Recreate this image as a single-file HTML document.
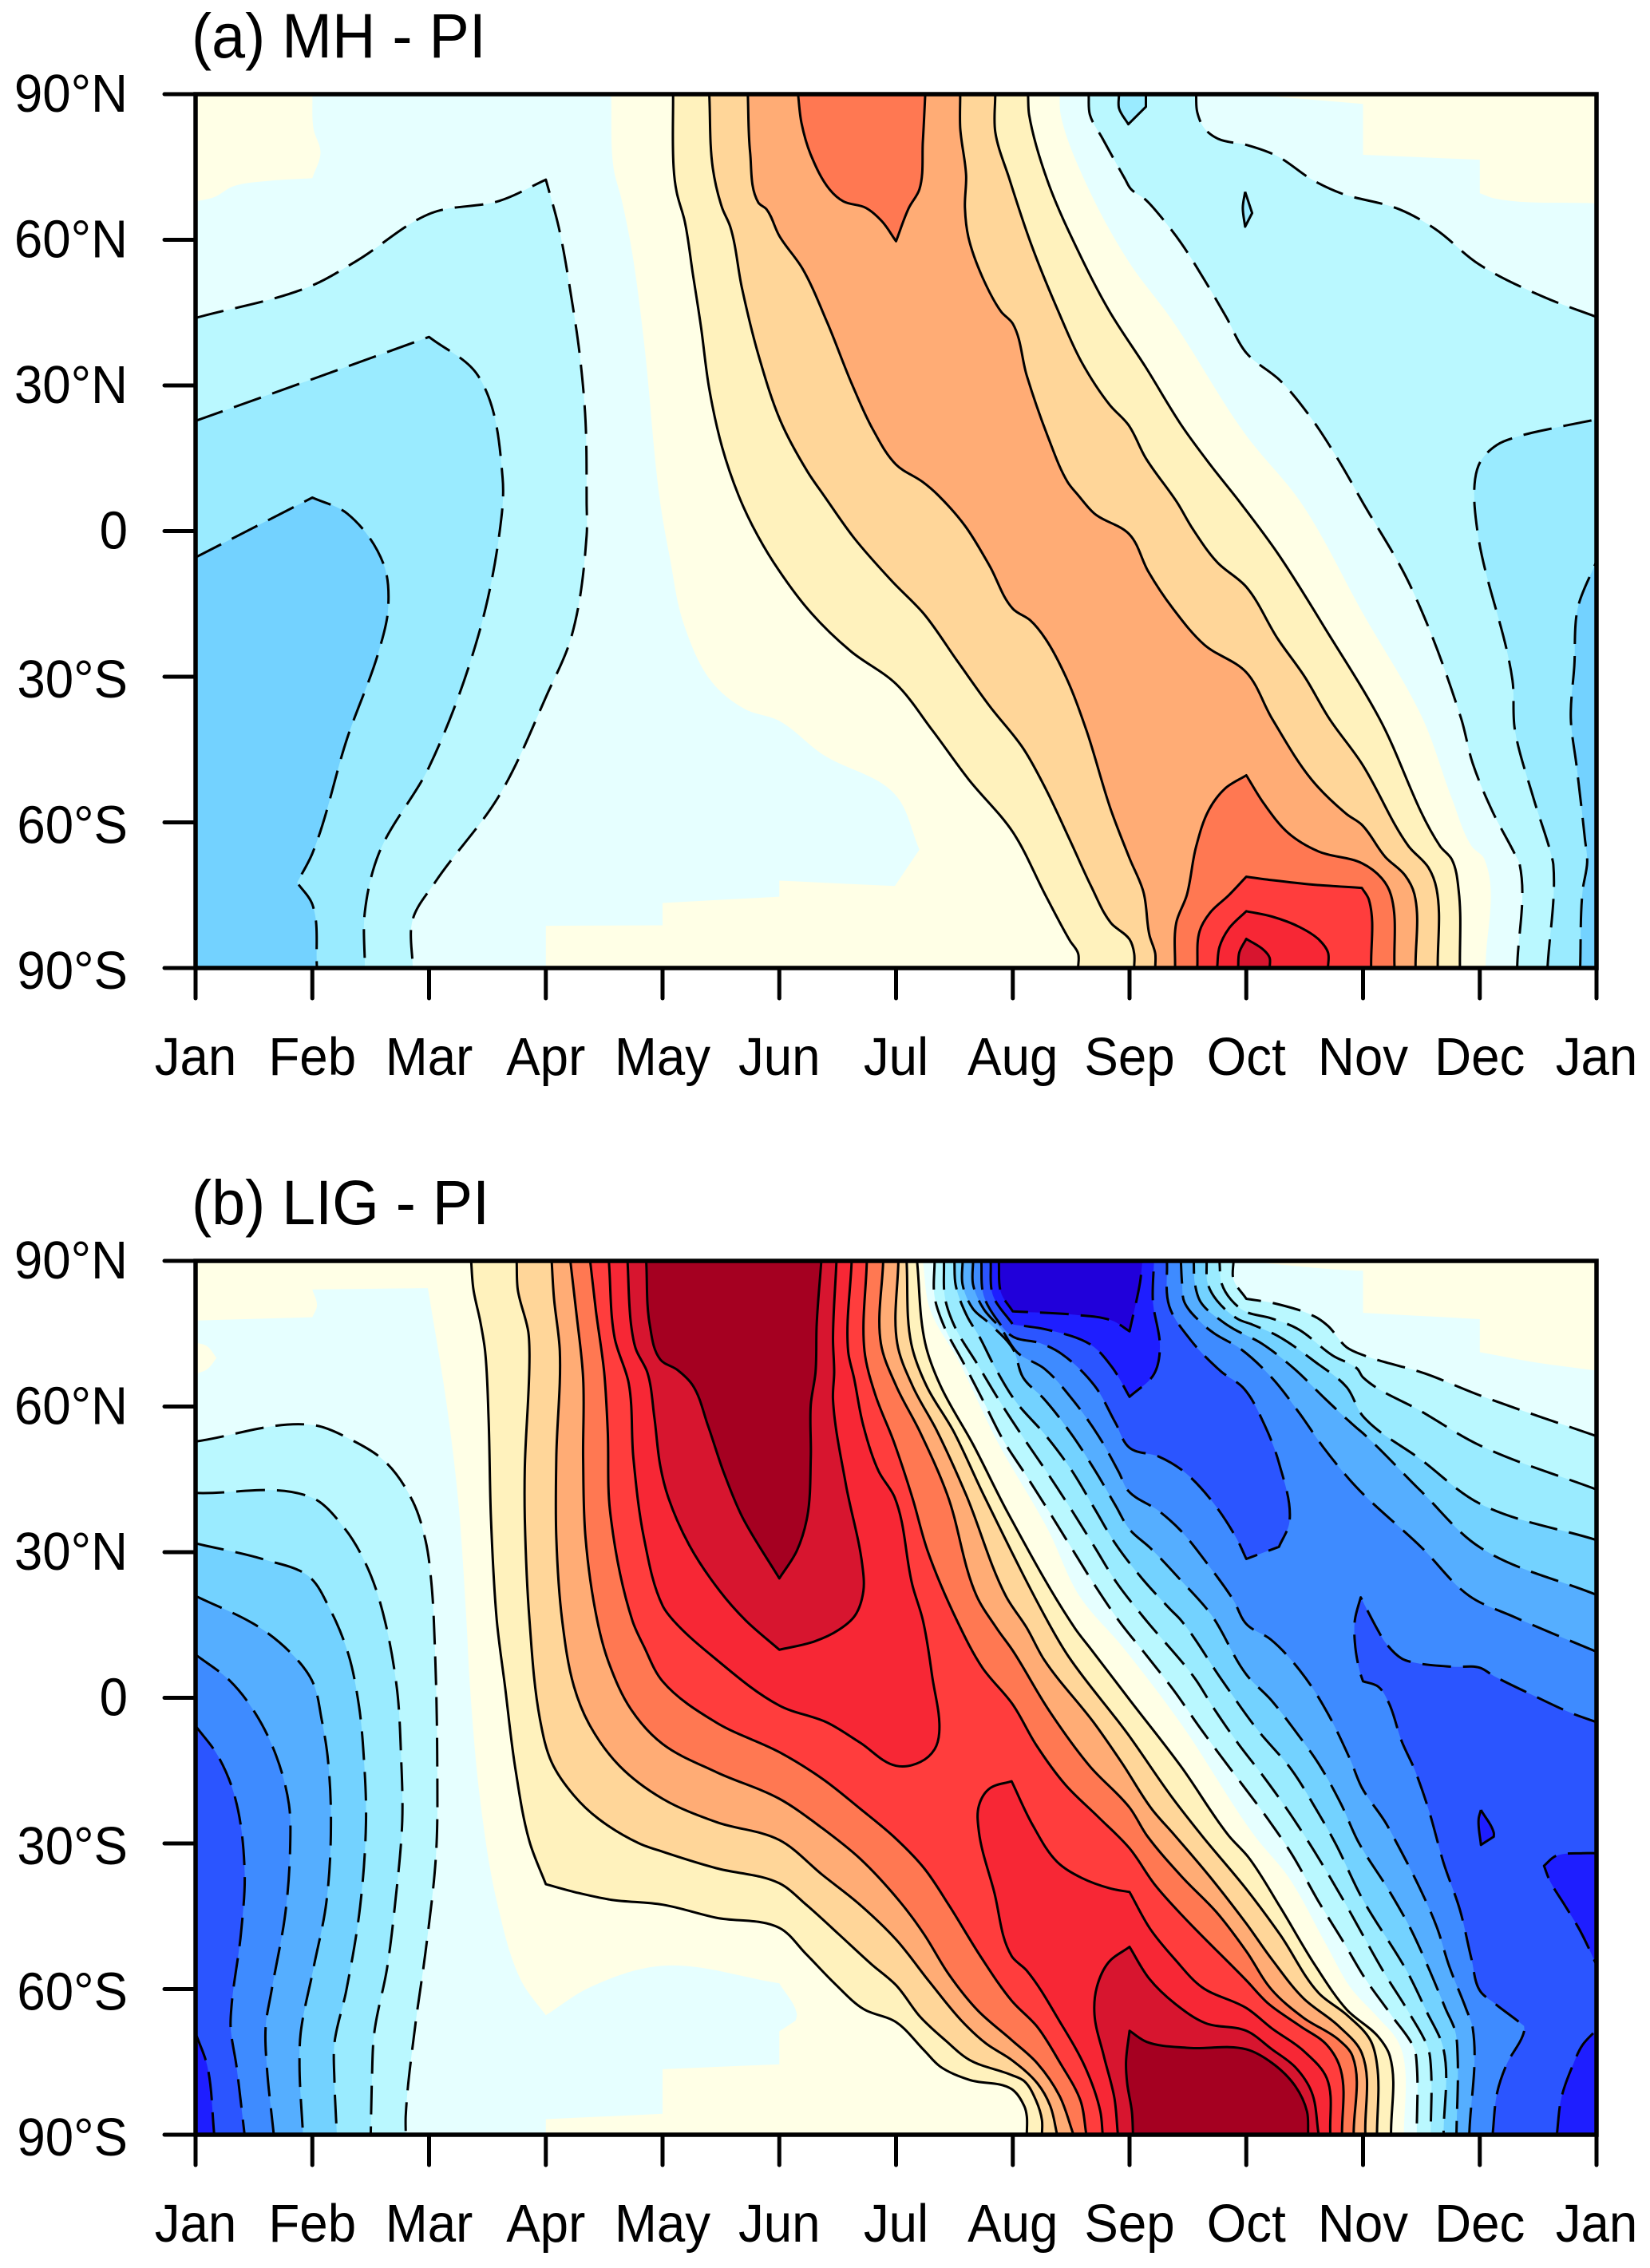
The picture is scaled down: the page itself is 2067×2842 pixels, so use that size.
<!DOCTYPE html>
<html lang="en">
<head>
<meta charset="utf-8">
<title>MH - PI and LIG - PI month-latitude contours</title>
<style>
html,body{margin:0;padding:0;background:#fff;}
svg{display:block;}
text{font-family:"Liberation Sans",Arial,sans-serif;fill:#000;}
</style>
</head>
<body>
<svg id="chart" xmlns="http://www.w3.org/2000/svg" width="2067" height="2842" viewBox="0 0 2067 2842">
<rect x="0" y="0" width="2067" height="2842" fill="#fff"/>
<defs>
<clipPath id="clip-a"><rect x="245" y="118" width="1755" height="1095"/></clipPath>
<clipPath id="clip-b"><rect x="245" y="1580" width="1755" height="1095"/></clipPath>
</defs>
<g id="panel-a"></g>
<g id="panel-b"></g>
<text font-size="79" transform="translate(240,72) scale(.955,1)">(a) MH - PI</text>
<text font-size="79" transform="translate(240,1534) scale(.955,1)">(b) LIG - PI</text>
</svg>
<script>
// Axis categories and labels
const monthLabels = ["Jan","Feb","Mar","Apr","May","Jun","Jul","Aug","Sep","Oct","Nov","Dec","Jan"];
const latTicks = [90,60,30,0,-30,-60,-90];
const latLabels = ["90°N","60°N","30°N","0","30°S","60°S","90°S"];

// Colour levels
const warm = ["#FFFFE6","#FFF2BD","#FFD699","#FFAC75","#FF7852","#FF3D3D","#F72735","#D7152F","#A50021"];
const cool = ["#E6FFFF","#BAF8FF","#9AEBFF","#73D2FF","#55AEFF","#3E8BFF","#2B55FF","#1E1EFF","#2100DA"];

// ===== Panel (a) contours: [month position, latitude] =====
const aZeroLeft = [[3.56,90],[3.58,74.8],[3.65,68.2],[3.74,57.3],[3.84,39.2],[3.98,5.8],[4.06,-5.2],[4.18,-19],[4.42,-31],[4.7,-36.6],[5,-39.1],[5.37,-46],[5.99,-54.2],[6.2,-65.6],[5.99,-73.1],[5,-72],[5,-75.3],[4,-76.6],[4,-81.2],[3,-81.3],[3,-90]];
const aZeroRight = [[11.05,-90],[11.04,-67.6],[10.93,-64.9],[10.76,-55],[10.51,-38.6],[10,-17],[9.47,5.8],[8.99,20],[8.36,43.6],[7.99,55.6],[7.62,72],[7.41,85.8],[7.4,90]];
const aZeroTopLeft = [[1,90],[1.01,82.9],[1.07,78],[1,72.7],[0.61,72.1],[0.32,71],[0.16,68.8],[0,67.9],[0,90]];
const aZeroTopRight = [[9,90],[10,88],[10,77.5],[11,76.5],[11,69.6],[11.13,68.5],[12,67.5],[12,90]];
const aL1Left = [[4.09,90],[4.095,74.8],[4.12,69.9],[4.19,63.8],[4.26,52.9],[4.33,41.9],[4.4,29.3],[4.51,17.3],[4.65,7.4],[4.77,1.1],[4.95,-6.4],[5.26,-16.5],[5.61,-24.7],[6,-31.5],[6.31,-41],[6.62,-51.1],[7,-62],[7.28,-75],[7.49,-84.4],[7.56,-87],[7.56,-90]];
const aL1Right = [[10.83,-90],[10.82,-74.2],[10.76,-67.6],[10.66,-64.9],[10.14,-38.6],[9.7,-21],[9.27,-4.6],[8.95,5.8],[8.7,13.4],[8.45,21.6],[8.14,33.7],[7.83,45.2],[7.59,56.2],[7.3,72],[7.14,85.8],[7.13,90]];
const aL2Left = [[4.4,90],[4.43,74.8],[4.51,66.6],[4.58,62.7],[4.68,50.1],[4.82,36.4],[5.01,22.7],[5.24,12.3],[5.38,7.4],[5.64,-1.4],[5.96,-10.2],[6.24,-17.1],[6.52,-26.6],[6.8,-36],[7.09,-44.8],[7.28,-53],[7.49,-63.7],[7.67,-73.1],[7.84,-80.7],[8,-84.1],[8.04,-87],[8.04,-90]];
const aL2Right = [[10.64,-90],[10.63,-73.7],[10.56,-69.3],[10.39,-64.9],[9.99,-47.9],[9.71,-38.6],[9.5,-30],[9.27,-22.2],[9,-11.5],[8.75,-6.4],[8.54,0.5],[8.41,5.8],[8.14,15],[7.99,21.9],[7.83,26],[7.59,34.8],[7.4,44.7],[7.16,58.9],[6.97,72.6],[6.85,82.2],[6.85,90]];
const aL3Left = [[4.73,90],[4.75,78],[4.82,67.7],[4.89,66.3],[5,60.8],[5.2,54],[5.41,43],[5.62,30.4],[5.8,21],[6,13.7],[6.23,10.1],[6.36,7.4],[6.59,1.1],[6.8,-7.1],[7,-16],[7.15,-18.4],[7.28,-22.2],[7.46,-30.3],[7.63,-41],[7.84,-57.4],[8,-67.4],[8.12,-74.4],[8.17,-83.2],[8.22,-87],[8.22,-90]];
const aL3Right = [[10.45,-90],[10.44,-74.8],[10.36,-70.9],[10.19,-67.1],[9.99,-60.5],[9.86,-58.3],[9.56,-51.2],[9.22,-38.6],[9,-29.1],[8.64,-23.4],[8.37,-15.9],[8.16,-8.3],[8,-0.7],[7.7,3.6],[7.56,7.4],[7.47,10.1],[7.3,19.5],[7.12,32],[7,42.7],[6.9,45.2],[6.74,52.3],[6.62,60.5],[6.59,66.6],[6.6,73.2],[6.55,83],[6.55,90]];
const aL4Top = [[5.16,90],[5.19,84.1],[5.27,77.5],[5.43,70.4],[5.55,67.9],[5.74,66.6],[5.88,63.8],[6,59.7],[6.11,66.6],[6.2,70.4],[6.23,80.3],[6.25,90]];
const aL4Low = [[8.39,-90],[8.4,-80.7],[8.49,-75],[8.57,-65],[8.68,-57.4],[8.82,-53],[9,-50.3],[9.15,-56.1],[9.36,-62.2],[9.62,-66],[9.99,-68.4],[10.16,-71.5],[10.24,-75],[10.27,-90]];
const aL5Low = [[8.58,-90],[8.6,-82.4],[8.69,-78.6],[8.85,-75],[9,-71.2],[9.22,-71.9],[9.56,-72.8],[9.99,-73.5],[10.05,-75.9],[10.07,-90]];
const aL6Low = [[8.75,-90],[8.77,-85.7],[8.85,-81.9],[9,-78.3],[9.22,-79.4],[9.46,-81.6],[9.62,-84.1],[9.7,-86.8],[9.7,-90]];
const aL7Low = [[8.93,-90],[8.94,-86.8],[9,-84],[9.15,-86.3],[9.2,-87.9],[9.2,-90]];
const aD1Left = [[0,43.9],[0.98,50.4],[1.375,55.6],[2.02,65.5],[2.6,68],[3,72.4],[3.11,62.7],[3.22,48],[3.29,36.4],[3.34,22.7],[3.35,5.8],[3.35,-0.9],[3.22,-21.7],[3.01,-33.7],[2.6,-54.5],[2.05,-72.4],[1.86,-80],[1.86,-90]];
const aD2Left = [[0,22.7],[1,31.3],[2,40],[2.42,32],[2.63,11],[2.6,-0.9],[2.42,-21.7],[2,-48.6],[1.57,-66.4],[1.45,-78.4],[1.45,-90]];
const aD3Left = [[0,-5.4],[1,6.9],[1.3,3.6],[1.61,-6.8],[1.65,-15.8],[1.57,-24.7],[1.3,-42.6],[1,-66.4],[0.87,-72.4],[1,-76.9],[1.04,-90]];
const aD1RightA = [[7.65,90],[7.66,85.8],[7.77,80.8],[7.96,72.6],[8.01,70.5],[8.14,68.2],[8.28,64.4],[8.44,59.4],[8.64,51.8],[8.83,44],[9,36.7],[9.29,31],[9.54,23.8],[9.75,16.2],[10,5.8],[10.4,-11],[10.84,-38.6],[10.94,-47.9],[11.11,-57.8],[11.3,-66.5],[11.34,-68.5],[11.32,-90]];
const aD1RightB = [[12,44.1],[11.55,48.2],[10.99,55],[10.62,62.2],[10.31,66.3],[9.81,69.6],[9.57,72.3],[9.26,77.3],[9.01,79.5],[8.76,80.8],[8.64,83],[8.58,86.3],[8.57,90]];
const aD2Right = [[11.58,-90],[11.63,-68.7],[11.61,-66.5],[11.46,-55],[11.3,-40.8],[11.28,-30.7],[10.98,0],[10.96,10.7],[11.01,14.5],[11.15,17.8],[11.33,19.5],[11.67,21.4],[12,23]];
const aD3Right = [[11.86,-90],[11.88,-74.2],[11.92,-68.2],[11.9,-63.3],[11.83,-48.5],[11.78,-38.6],[11.81,-27.7],[11.84,-15.8],[12,-6.2]];
const aBlobTop = [[7.91,90],[7.91,87.1],[7.99,83.8],[8.14,87.4],[8.14,90]];
const aBlobSmall = [[8.99,69.9],[8.97,66.6],[8.99,62.7],[9.05,65.5],[8.99,69.9]];

// ===== Panel (b) contours: [month position, latitude] =====
const bZeroLeft = [[0,90],[0,77.7],[1,78.4],[1.04,80.8],[1,84.1],[1.99,84.4],[2.15,60.6],[2.25,40.5],[2.32,16],[2.35,2.4],[2.44,-21.5],[2.58,-41.9],[2.79,-58.3],[3,-65.4],[3.38,-59.6],[4,-55.2],[5,-58.8],[5.15,-65.1],[5.14,-66.5],[5,-68.7],[5,-75.5],[4,-76.5],[4,-85.7],[3,-86.8],[3,-90]];
const bZeroRight = [[10.35,-90],[10.35,-74.4],[10.29,-70.4],[10.13,-65.9],[9.89,-59.6],[9.69,-51.1],[9.36,-36.9],[9.07,-28.4],[8.44,-5.3],[7.94,10.5],[7.57,21],[7.3,34.7],[6.87,52.7],[6.54,69.2],[6.29,80.1],[6.23,90]];
const bZeroTopRight = [[8.95,90],[9.95,88],[10,88],[10,79.3],[11,78],[11,71.2],[11.5,69],[12,67.4],[12,90]];
const bZeroPatch = [[0,73.2],[0.1,72.4],[0.18,70],[0.1,67.7],[0,66.7]];
const bL1Left = [[2.36,90],[2.38,84.1],[2.44,77.4],[2.48,71.4],[2.51,57.3],[2.53,37.1],[2.58,16],[2.65,2.4],[2.74,-14.7],[2.86,-29.6],[3,-38.4],[3.28,-40.2],[3.56,-41.6],[4,-42.6],[4.46,-45.3],[5,-47.4],[5.23,-52.8],[5.48,-59],[5.72,-64.1],[6,-66.8],[6.24,-72.6],[6.38,-76],[6.63,-78.7],[6.99,-80.6],[7.1,-84.2],[7.12,-86.2],[7.12,-90]];
const bL1Right = [[10.24,-90],[10.23,-73.8],[10.13,-69.8],[9.86,-64.2],[9.59,-55.1],[9.29,-43.1],[9.02,-32.9],[8.85,-28.4],[8.44,-14.1],[8.01,-0.7],[7.66,10.3],[7.53,14.4],[6.96,38],[6.66,52.2],[6.38,64.3],[6.25,73],[6.18,90]];
const bL2Left = [[2.75,90],[2.76,84.1],[2.85,75.4],[2.86,70.7],[2.82,47.2],[2.82,37.1],[2.86,16],[2.95,-4.4],[3.05,-13.3],[3.24,-20.1],[3.45,-24.9],[3.8,-30],[4,-31.7],[4.46,-35.1],[5,-38.2],[5.23,-42.6],[5.51,-48.7],[5.79,-54.9],[6,-59.2],[6.21,-65.8],[6.42,-70.5],[6.63,-74.6],[6.99,-77.7],[7.1,-79],[7.2,-83],[7.25,-87],[7.25,-90]];
const bL2Right = [[10.12,-90],[10.12,-75.5],[10.06,-70.4],[9.86,-65.3],[9.62,-60.8],[9.29,-48.8],[9,-39.4],[8.62,-28.4],[8.37,-20.7],[7.98,-7.3],[7.48,8.4],[7.33,14.4],[6.75,41.8],[6.49,55],[6.26,64.3],[6.13,73],[6.09,90]];
const bL3Left = [[3.05,90],[3.07,82.3],[3.12,71.4],[3.09,49.5],[3.09,33],[3.14,16],[3.24,2.4],[3.38,-5.8],[3.63,-14],[4,-20.8],[4.46,-25.6],[5,-29.3],[5.37,-36.5],[5.69,-42.6],[6,-49.8],[6.28,-58.3],[6.56,-66.5],[6.77,-71.2],[6.99,-74.6],[7.21,-79.4],[7.32,-84],[7.38,-90]];
const bL3Right = [[10.02,-90],[9.99,-73.2],[9.79,-67.6],[9.49,-61.9],[9.22,-53.9],[9,-46.5],[8.69,-36.9],[8.39,-28.4],[8.19,-22.9],[7.94,-13.6],[7.7,-5.3],[7.27,7.8],[7.12,14.4],[6.94,21],[6.6,41.8],[6.35,55],[6.14,64.3],[6.01,73],[6.02,90]];
const bL4Left = [[3.21,90],[3.26,79.6],[3.32,65.9],[3.32,49.5],[3.34,33],[3.44,16],[3.54,7.2],[3.73,-2.4],[4,-9.5],[4.46,-15.3],[5,-20.8],[5.37,-26.9],[5.69,-33.1],[6.03,-41.9],[6.24,-48.7],[6.45,-56.9],[6.7,-64.4],[6.99,-70.5],[7.21,-75.3],[7.4,-82],[7.52,-90]];
const bL4Right = [[9.92,-90],[9.91,-73.8],[9.79,-70.4],[9.49,-65.9],[9.22,-60.2],[9,-52.2],[8.75,-44.3],[8.45,-36.9],[8.15,-28.4],[8,-22.6],[7.66,-14.1],[7.31,-2.6],[7,9.7],[6.86,14.4],[6.69,21],[6.44,41.8],[6.2,55],[6,64.3],[5.87,73],[5.89,90]];
const bL5Left = [[3.38,90],[3.43,79.6],[3.5,67],[3.53,55],[3.55,38.5],[3.74,16],[3.84,10.6],[4,3.4],[4.46,-5.1],[5,-11.2],[5.37,-16.7],[5.69,-22.8],[5.98,-28.6],[6.24,-35.1],[6.45,-42.6],[6.73,-53.5],[6.99,-62.4],[7.21,-67.8],[7.4,-75],[7.58,-83],[7.63,-90]];
const bL5Right = [[9.82,-90],[9.81,-76.7],[9.69,-71.5],[9.46,-67.6],[9.19,-63],[9,-58.2],[8.45,-44.8],[8.22,-38.6],[8,-31],[7.73,-24.5],[7.45,-17.9],[7.2,-9.7],[7,-1.4],[6.74,6.2],[6.53,15.5],[6.27,30.3],[6.14,41.2],[5.98,52.8],[5.82,62.6],[5.73,71.4],[5.75,90]];
const bL6Top = [[3.54,90],[3.59,74.1],[3.71,64.8],[3.75,49.5],[3.84,33],[4,19],[4.09,16],[4.43,8.5],[5,-1.6],[5.41,-5.1],[5.69,-9.2],[6,-14],[6.21,-13.2],[6.33,-10.6],[6.37,-7.2],[6.31,4.4],[6.23,16],[6.14,23.2],[5.99,41.2],[5.85,46.7],[5.72,56],[5.64,65.9],[5.59,71.4],[5.62,90]];
const bL6Low = [[7.77,-90],[7.75,-85.2],[7.62,-76.1],[7.41,-67],[7.12,-56.2],[6.99,-53.2],[6.84,-39.9],[6.71,-27.6],[6.71,-22.2],[6.8,-18.7],[6.99,-17.2],[7.17,-26.2],[7.38,-33.8],[7.59,-37.1],[7.84,-39.3],[8,-40],[8.18,-47.7],[8.39,-53.9],[8.62,-59.6],[9,-63.9],[9.22,-68.1],[9.49,-72.7],[9.69,-78.4],[9.72,-90]];
const bL7Top = [[3.7,90],[3.73,76.9],[3.77,71.9],[3.87,67],[3.93,57.7],[3.98,47.8],[4.05,41.2],[4.23,31.4],[4.49,22],[4.71,16],[5,9.9],[5.3,11.6],[5.51,14],[5.65,17],[5.72,22],[5.71,27.5],[5.57,44],[5.46,61.5],[5.47,67],[5.46,74.1],[5.49,90]];
const bL7Low = [[7.9,-90],[7.87,-82.4],[7.78,-73.8],[7.7,-65.3],[7.72,-59.6],[7.82,-54.5],[8,-51.3],[8.17,-57.9],[8.39,-63],[8.65,-67],[9,-68.6],[9.22,-72.4],[9.42,-76.1],[9.56,-81.2],[9.62,-90]];
const bL8Top = [[3.86,90],[3.89,76.9],[3.98,69.7],[4.13,67.5],[4.26,64.3],[4.39,56],[4.52,46.7],[4.68,37.4],[5,24.6],[5.15,30.3],[5.24,37.4],[5.27,49.5],[5.27,60.4],[5.31,67],[5.32,76.9],[5.36,90]];
const bL8Low = [[8.03,-90],[8.02,-85.2],[7.98,-79.5],[7.97,-75],[8,-68.6],[8.15,-70.9],[8.5,-72.1],[9,-72.4],[9.22,-75.2],[9.42,-80],[9.52,-85.2],[9.53,-90]];

const bD1West = [[0,52.8],[1,56.2],[1.33,53.2],[1.63,48.5],[1.86,40.5],[1.97,32.4],[2.02,23.7],[2.05,10.3],[2.07,-11.9],[2.06,-32.1],[1.97,-52.3],[1.88,-67.8],[1.8,-86],[1.8,-90]];
const bD2West = [[0,42.2],[1,41.2],[1.27,35.1],[1.45,28],[1.58,19.7],[1.72,2.9],[1.76,-11.9],[1.77,-25.4],[1.71,-42.2],[1.64,-55.7],[1.53,-69.1],[1.51,-79.2],[1.5,-90]];
const bD3West = [[0,31.8],[0.6,28.4],[0.97,25],[1.15,18.3],[1.31,8.9],[1.4,-1.8],[1.44,-11.9],[1.46,-25.4],[1.41,-42.9],[1.29,-60.4],[1.19,-71.1],[1.19,-79.2],[1.21,-90]];
const bD4West = [[0,21],[0.56,14.3],[0.88,7.6],[1.01,2.9],[1.08,-4.5],[1.13,-11.9],[1.16,-25.4],[1.12,-42.2],[1.01,-55.7],[0.9,-69.1],[0.89,-75.8],[0.92,-90]];
const bD5West = [[0,8.9],[0.29,3.6],[0.51,-3.1],[0.69,-11.9],[0.8,-22],[0.81,-30.8],[0.77,-44.2],[0.65,-60.4],[0.6,-67.8],[0.61,-75.8],[0.67,-90]];
const bD6West = [[0,-5.8],[0.19,-11.9],[0.34,-20.7],[0.42,-35.5],[0.39,-48.3],[0.31,-63],[0.3,-67.8],[0.35,-75.8],[0.42,-90]];
const bD7West = [[0,-69.1],[0.1,-75.8],[0.16,-90]];

const bD1East = [[6.33,90],[6.33,82.6],[6.41,76.6],[6.58,68.9],[6.75,61],[6.92,53],[7.12,45.6],[7.32,38],[7.51,30.6],[7.71,22.9],[7.92,15.5],[8.15,8.6],[8.38,1.5],[8.61,-6.4],[8.96,-17.7],[9.18,-24.8],[9.39,-32.2],[9.62,-42],[9.83,-50.2],[10.02,-57.9],[10.24,-65.3],[10.44,-72.4],[10.46,-75.5],[10.46,-90]];
const bD1Top = [[8.89,90],[8.89,86.2],[9,82.2],[9.25,81.2],[9.59,78.5],[9.7,76.6],[9.86,72.2],[10,70.6],[10.53,66.8],[11,62.3],[12,53.9]];
const bD2East = [[6.41,90],[6.42,82.3],[6.5,76.6],[6.7,68.6],[6.89,61],[7.09,53.6],[7.3,46.2],[7.5,38.8],[7.7,31.1],[7.89,23.7],[8.12,16.6],[8.56,4],[8.72,-2.1],[8.93,-9.4],[9.15,-16.3],[9.37,-23.7],[9.57,-31.1],[9.82,-41.2],[10.19,-57],[10.39,-64.7],[10.56,-72.4],[10.58,-75.5],[10.58,-90]];
const bD2Top = [[8.77,90],[8.79,85.3],[8.87,82],[8.99,79.6],[9.21,78.2],[9.44,76],[9.74,70.5],[9.95,67.8],[10,66],[10.5,59],[11,52],[12,42.9]];
const bD3East = [[6.5,90],[6.51,85.1],[6.6,79],[6.72,74.1],[6.84,68.4],[7.02,61.2],[7.28,54.1],[7.5,47],[7.7,39],[7.88,31.7],[8.11,24.5],[8.35,18.2],[8.44,16],[8.79,3.7],[9.09,-6.4],[9.39,-14.9],[9.59,-22.6],[9.77,-30.3],[9.99,-41.2],[10.38,-56.5],[10.54,-64.4],[10.69,-72.4],[10.69,-90]];
const bD3Top = [[8.66,90],[8.67,85.3],[8.75,81.8],[8.93,78],[9.05,76.9],[9.28,74.4],[9.59,69.2],[9.86,64],[10,58],[10.5,49],[11,40],[12,32.5]];
const bD4East = [[6.57,90],[6.57,85.1],[6.66,80.1],[6.8,77.1],[7,71.9],[7.09,65.9],[7.27,61.5],[7.5,54.4],[7.7,47],[7.88,39.6],[8,34.7],[8.18,30.8],[8.44,24.2],[8.7,17.1],[9,4.8],[9.21,-0.4],[9.44,-7.5],[9.62,-13.6],[9.81,-21.8],[9.96,-29.7],[10.23,-40],[10.41,-47.7],[10.56,-55.6],[10.71,-64.2],[10.79,-68.7],[10.81,-73.8],[10.8,-90]];
const bD4Top = [[8.55,90],[8.56,85.3],[8.61,81.5],[8.8,77.4],[8.89,76],[9.13,73],[9.41,67.8],[9.68,61.5],[9.95,55.5],[10,54.5],[10.5,42.5],[11,31],[12,21.2]];
const bD5East = [[6.66,90],[6.66,85.1],[6.75,80.1],[6.9,76],[7.04,71.1],[7.27,67.8],[7.51,61.5],[7.73,54.1],[7.91,46.4],[7.99,42.6],[8.25,38.5],[8.44,34.4],[8.67,27.5],[8.89,20.1],[9,15.2],[9.21,12],[9.46,5.6],[9.67,-2],[9.89,-12.7],[9.99,-18.5],[10.19,-25.6],[10.28,-29.5],[10.48,-38.9],[10.63,-47.1],[10.74,-55.4],[10.88,-63.9],[10.94,-68.1],[10.91,-90]];
const bD5Top = [[8.44,90],[8.45,85.3],[8.47,81.5],[8.63,76.9],[8.73,75],[8.95,71.9],[9.22,65.9],[9.45,58.8],[9.66,51.6],[9.89,44.8],[10,42],[10.5,31],[10.91,21],[11.3,16.6],[11.62,13.3],[12,9.5]];
const bD6Blob = [[6.73,90],[6.75,82.9],[6.87,77.7],[7,74.4],[7.24,73],[7.42,70.8],[7.7,64.3],[7.88,56.6],[8,51.5],[8.25,49.7],[8.46,46.7],[8.7,40.7],[8.92,32.7],[9,28.6],[9.28,31.1],[9.37,36.3],[9.28,48.4],[9.16,56],[8.98,63.7],[8.78,67.3],[8.52,73.8],[8.34,80.7],[8.32,90]];
const bD6Low = [[11.11,-90],[11.15,-81.2],[11.23,-75.5],[11.38,-68.7],[11.38,-67.6],[11.3,-66.1],[11.13,-63],[11,-60.3],[10.93,-53.9],[10.83,-43.7],[10.69,-34],[10.56,-22.9],[10.44,-14.7],[10.33,-8.9],[10.22,-1],[10.13,2.3],[10,3.4],[9.97,5.6],[9.93,11.4],[9.93,16],[9.98,20.7],[10.13,13.8],[10.2,11.1],[10.33,8.1],[10.43,7.3],[10.77,6.4],[11,6.2],[11.12,4.5],[11.44,0.7],[11.79,-3.2],[12,-5]];
const bD7Blob = [[6.81,90],[6.83,82.9],[7,76.9],[7.3,75.8],[7.67,72.7],[7.85,68.1],[8,62],[8.21,66.7],[8.26,71.9],[8.2,81.8],[8.21,90]];
const bD7Tiny = [[11.01,-23.1],[11.12,-27.8],[11.12,-28.6],[11.01,-30.3],[10.99,-25],[11.01,-23.1]];
const bD7East = [[12,-32],[11.88,-32],[11.65,-32.6],[11.55,-34.6],[11.6,-37.7],[11.73,-42.8],[11.86,-48],[12,-55]];
const bD7Corner = [[11.66,-90],[11.7,-82.3],[11.8,-75.5],[11.88,-71.5],[12,-68.4]];
const bD8Blob = [[6.88,90],[6.9,83.4],[7,79.6],[7.53,78.9],[7.85,77.7],[8,75.5],[8.09,85.6],[8.11,90]];

const NS = "http://www.w3.org/2000/svg";
const panelGeom = {a:{top:118,bottom:1213}, b:{top:1580,bottom:2675}};
const plotLeft = 245, plotRight = 2000;
function xScale(m){ return plotLeft + (plotRight-plotLeft)*m/12; }
function yScale(lat,geo){ return geo.top + (geo.bottom-geo.top)*(90-lat)/180; }
function rev(a){ return a.slice().reverse(); }

function curve(pts,geo,move){
  const p = pts.map(function(q){ return [xScale(q[0]),yScale(q[1],geo)]; });
  let d = (move?"M":"L")+p[0][0].toFixed(1)+" "+p[0][1].toFixed(1);
  function unit(a,b){ const dx=b[0]-a[0],dy=b[1]-a[1],l=Math.hypot(dx,dy)||1; return [dx/l,dy/l]; }
  const tIn=[],tOut=[];
  for(let i=0;i<p.length;i++){
    const inD = i>0?unit(p[i-1],p[i]):null;
    const outD = i<p.length-1?unit(p[i],p[i+1]):null;
    if(!inD){ tOut[i]=outD; continue; }
    if(!outD){ tIn[i]=inD; continue; }
    const dot = inD[0]*outD[0]+inD[1]*outD[1];
    if(dot<0.72){ tIn[i]=inD; tOut[i]=outD; }
    else {
      const s=[inD[0]+outD[0],inD[1]+outD[1]], l=Math.hypot(s[0],s[1])||1;
      tIn[i]=[s[0]/l,s[1]/l]; tOut[i]=tIn[i];
    }
  }
  for(let i=0;i<p.length-1;i++){
    const len=Math.hypot(p[i+1][0]-p[i][0],p[i+1][1]-p[i][1])/3;
    const c1=[p[i][0]+tOut[i][0]*len,p[i][1]+tOut[i][1]*len];
    const c2=[p[i+1][0]-tIn[i+1][0]*len,p[i+1][1]-tIn[i+1][1]*len];
    d+="C"+c1[0].toFixed(1)+" "+c1[1].toFixed(1)+" "+c2[0].toFixed(1)+" "+c2[1].toFixed(1)+" "+p[i+1][0].toFixed(1)+" "+p[i+1][1].toFixed(1);
  }
  return d;
}

function addShape(parent,tag,name){
  const el=document.createElementNS(NS,tag);
  
  
  parent.appendChild(el);
  return el;
}

// Draws one filled contour region. Parts of up to two points are plot-edge runs and are not stroked.
function area(g,geo,color,style,name,parts){
  let d="";
  parts.forEach(function(part,i){
    if(part.length<=2){
      part.forEach(function(q,j){
        d+=((i===0&&j===0)?"M":"L")+xScale(q[0]).toFixed(1)+" "+yScale(q[1],geo).toFixed(1);
      });
    } else {
      d+=curve(part,geo,i===0);
    }
  });
  d+="Z";
  const fill=addShape(g,'path',name+'-fill');
  fill.setAttribute('d',d);
  fill.setAttribute('fill',color);
  if(style==='none') return;
  parts.forEach(function(part){
    if(part.length<=2) return;
    const line=addShape(g,'path',name+'-line');
    line.setAttribute('d',curve(part,geo,true));
    line.setAttribute('fill','none');
    line.setAttribute('stroke','#000');
    line.setAttribute('stroke-width','3');
    line.setAttribute('stroke-linejoin','round');
    if(style==='dash') line.setAttribute('stroke-dasharray','36 15');
  });
}

function drawAxes(root,geo){
  const frame=addShape(root,'rect','plot-frame');
  frame.setAttribute('x',plotLeft);
  frame.setAttribute('y',geo.top);
  frame.setAttribute('width',plotRight-plotLeft);
  frame.setAttribute('height',geo.bottom-geo.top);
  frame.setAttribute('fill','none');
  frame.setAttribute('stroke','#000');
  frame.setAttribute('stroke-width','5.5');
  monthLabels.forEach(function(label,i){
    const x=xScale(i);
    const tick=addShape(root,'line','x-axis-tick');
    tick.setAttribute('x1',x);
    tick.setAttribute('x2',x);
    tick.setAttribute('y1',geo.bottom);
    tick.setAttribute('y2',geo.bottom+38);
    tick.setAttribute('stroke','#000');
    tick.setAttribute('stroke-width','5');
    tick.setAttribute('stroke-linecap','round');
    const t=addShape(root,'text','x-axis-label');
    t.setAttribute('text-anchor','middle');
    t.setAttribute('font-size','67');
    t.setAttribute('transform','translate('+x+','+(geo.bottom+134)+') scale(.95,1)');
    t.textContent=label;
  });
  latTicks.forEach(function(lat,i){
    const y=yScale(lat,geo);
    const tick=addShape(root,'line','y-axis-tick');
    tick.setAttribute('x1',206);
    tick.setAttribute('x2',plotLeft);
    tick.setAttribute('y1',y);
    tick.setAttribute('y2',y);
    tick.setAttribute('stroke','#000');
    tick.setAttribute('stroke-width','5');
    tick.setAttribute('stroke-linecap','round');
    const t=addShape(root,'text','y-axis-label');
    t.setAttribute('text-anchor','end');
    t.setAttribute('font-size','67');
    t.setAttribute('transform','translate(160,'+(y+(lat<0?26:22))+') scale(.95,1)');
    t.textContent=latLabels[i];
  });
}

function plotGroup(root,clip){
  const g=addShape(root,'g','contour-field');
  g.setAttribute('clip-path','url(#'+clip+')');
  const bg=addShape(g,'rect','field-background');
  bg.setAttribute('x',plotLeft);
  bg.setAttribute('y',0);
  bg.setAttribute('width',plotRight-plotLeft);
  bg.setAttribute('height',2842);
  bg.setAttribute('fill',cool[0]);
  return g;
}

// ---------- Panel a ----------
(function(){
  const root=document.getElementById('panel-a'), geo=panelGeom.a, g=plotGroup(root,'clip-a');
  area(g,geo,warm[0],'none','zero-band',[aZeroLeft,aZeroRight]);
  area(g,geo,warm[0],'none','zero-patch',[aZeroTopLeft]);
  area(g,geo,warm[0],'none','zero-patch',[aZeroTopRight]);
  area(g,geo,warm[1],'solid','warm-level-1',[aL1Left,aL1Right]);
  area(g,geo,warm[2],'solid','warm-level-2',[aL2Left,aL2Right]);
  area(g,geo,warm[3],'solid','warm-level-3',[aL3Left,aL3Right]);
  area(g,geo,warm[4],'solid','warm-level-4',[aL4Top]);
  area(g,geo,warm[4],'solid','warm-level-4',[aL4Low]);
  area(g,geo,warm[5],'solid','warm-level-5',[aL5Low]);
  area(g,geo,warm[6],'solid','warm-level-6',[aL6Low]);
  area(g,geo,warm[7],'solid','warm-level-7',[aL7Low]);
  area(g,geo,cool[1],'dash','cool-level-1',[aD1Left,[[0,-90]]]);
  area(g,geo,cool[1],'dash','cool-level-1',[aD1RightA,[[12,-90]],aD1RightB]);
  area(g,geo,cool[2],'dash','cool-level-2',[aD2Left,[[0,-90]]]);
  area(g,geo,cool[2],'dash','cool-level-2',[aD2Right,[[12,-90]]]);
  area(g,geo,cool[2],'solid','cool-level-2-blob',[aBlobTop]);
  area(g,geo,cool[2],'solid','cool-level-2-blob',[aBlobSmall]);
  area(g,geo,cool[3],'dash','cool-level-3',[aD3Left,[[0,-90]]]);
  area(g,geo,cool[3],'dash','cool-level-3',[aD3Right,[[12,-90]]]);
  drawAxes(root,geo);
})();

// ---------- Panel b ----------
(function(){
  const root=document.getElementById('panel-b'), geo=panelGeom.b, g=plotGroup(root,'clip-b');
  area(g,geo,warm[0],'none','zero-band',[bZeroLeft,bZeroRight]);
  area(g,geo,warm[0],'none','zero-patch',[bZeroTopRight]);
  area(g,geo,warm[0],'none','zero-patch',[bZeroPatch]);
  area(g,geo,warm[1],'solid','warm-level-1',[bL1Left,bL1Right]);
  area(g,geo,warm[2],'solid','warm-level-2',[bL2Left,bL2Right]);
  area(g,geo,warm[3],'solid','warm-level-3',[bL3Left,bL3Right]);
  area(g,geo,warm[4],'solid','warm-level-4',[bL4Left,bL4Right]);
  area(g,geo,warm[5],'solid','warm-level-5',[bL5Left,bL5Right]);
  area(g,geo,warm[6],'solid','warm-level-6',[bL6Top]);
  area(g,geo,warm[6],'solid','warm-level-6',[bL6Low]);
  area(g,geo,warm[7],'solid','warm-level-7',[bL7Top]);
  area(g,geo,warm[7],'solid','warm-level-7',[bL7Low]);
  area(g,geo,warm[8],'solid','warm-level-8',[bL8Top]);
  area(g,geo,warm[8],'solid','warm-level-8',[bL8Low]);
  area(g,geo,cool[1],'dash','cool-level-1',[bD1West,[[0,-90]]]);
  area(g,geo,cool[2],'dash','cool-level-2',[bD2West,[[0,-90]]]);
  area(g,geo,cool[3],'dash','cool-level-3',[bD3West,[[0,-90]]]);
  area(g,geo,cool[4],'dash','cool-level-4',[bD4West,[[0,-90]]]);
  area(g,geo,cool[5],'dash','cool-level-5',[bD5West,[[0,-90]]]);
  area(g,geo,cool[6],'dash','cool-level-6',[bD6West,[[0,-90]]]);
  area(g,geo,cool[7],'dash','cool-level-7',[bD7West,[[0,-90]]]);
  area(g,geo,cool[1],'dash','cool-level-1',[bD1East,[[12,-90]],rev(bD1Top)]);
  area(g,geo,cool[2],'dash','cool-level-2',[bD2East,[[12,-90]],rev(bD2Top)]);
  area(g,geo,cool[3],'dash','cool-level-3',[bD3East,[[12,-90]],rev(bD3Top)]);
  area(g,geo,cool[4],'dash','cool-level-4',[bD4East,[[12,-90]],rev(bD4Top)]);
  area(g,geo,cool[5],'dash','cool-level-5',[bD5East,[[12,-90]],rev(bD5Top)]);
  area(g,geo,cool[6],'dash','cool-level-6',[bD6Blob]);
  area(g,geo,cool[6],'dash','cool-level-6',[bD6Low,[[12,-90]]]);
  area(g,geo,cool[7],'dash','cool-level-7',[bD7Blob]);
  area(g,geo,cool[7],'solid','cool-level-7',[bD7Tiny]);
  area(g,geo,cool[7],'dash','cool-level-7',[bD7East]);
  area(g,geo,cool[7],'dash','cool-level-7',[bD7Corner,[[12,-90]]]);
  area(g,geo,cool[8],'dash','cool-level-8',[bD8Blob]);
  drawAxes(root,geo);
})();
</script>
</body>
</html>
